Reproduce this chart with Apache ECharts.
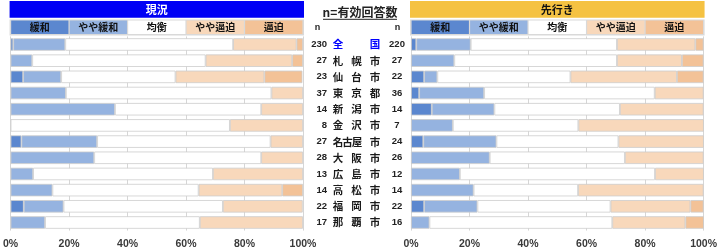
<!DOCTYPE html>
<html>
<head>
<meta charset="utf-8">
<script src="https://cdn.jsdelivr.net/npm/echarts@6/dist/echarts.min.js"></script>
<style>
html,body{margin:0;padding:0;background:#fff;}
#c{width:720px;height:250px;}
</style>
</head>
<body>
<div id="c"></div>
<script>
// ---- data ----
const cities = ['全国','札幌市','仙台市','東京都','新潟市','金沢市','名古屋市','大阪市','広島市','高松市','福岡市','那覇市'];
const nNow    = [230,27,23,37,14,8,27,28,13,14,22,17];
const nFuture = [220,27,22,36,14,7,24,26,12,14,22,16];
const levels = ['緩和','やや緩和','均衡','やや逼迫','逼迫'];
const xTicks = [0,20,40,60,80,100];

// 現況 (%)
const nowEase        = [0.9, 0, 4.3, 0, 0, 0, 3.7, 0, 0, 0, 4.5, 0];
const nowSlightEase  = [17.8, 7.4, 13.0, 18.9, 35.7, 0, 25.9, 28.6, 7.7, 14.3, 13.6, 11.8];
const nowBalance     = [57.4, 59.3, 39.1, 70.3, 50.0, 75.0, 59.3, 57.1, 61.5, 50.0, 54.5, 52.9];
const nowSlightTight = [21.7, 29.6, 30.4, 10.8, 14.3, 25.0, 11.1, 14.3, 30.8, 28.6, 27.3, 35.3];
const nowTight       = [2.2, 3.7, 13.0, 0, 0, 0, 0, 0, 0, 7.1, 0, 0];

// 先行き (%)
const futEase        = [1.8, 0, 4.5, 2.8, 7.1, 0, 4.2, 0, 0, 0, 4.5, 0];
const futSlightEase  = [18.6, 14.8, 4.5, 22.2, 21.4, 14.3, 25.0, 26.9, 16.7, 21.4, 18.2, 6.3];
const futBalance     = [50.0, 55.6, 45.5, 58.3, 42.9, 42.9, 41.7, 46.2, 66.7, 35.7, 45.5, 62.5];
const futSlightTight = [26.8, 22.2, 36.4, 16.7, 28.6, 42.9, 29.2, 26.9, 16.7, 42.9, 27.3, 25.0];
const futTight       = [2.8, 7.4, 9.1, 0, 0, 0, 0, 0, 0, 0, 4.5, 6.3];

// ---- styles ----
const colors = ['#5b87cf','#95b3e0','#ffffff','#f8d8bb','#f3c297'];
const G = [
  {left:7, width:296, top:36.4, height:194.2},
  {left:411, width:297, top:36.4, height:194.2}
];
const jp = '"Noto Sans CJK JP", "Noto Sans", sans-serif';
const num = '"Liberation Sans", Arial, sans-serif';

const chart = echarts.init(document.getElementById('c'), null, {renderer:'canvas'});

function mkSeries(arrs, gi, stack) {
  return arrs.map((a, k) => ({
    type:'bar', name: levels[k], stack: stack, xAxisIndex: gi, yAxisIndex: gi,
    barCategoryGap:'23%',
    data: a.map(v => v === 0 ? '-' : v),
    itemStyle:{color: colors[k], borderColor:'#cdcdcd', borderWidth:0.8},
    silent:true
  }));
}

function xAx(gi){
  return {
    type:'value', gridIndex: gi, min:0, max:100, interval:20,
    axisLine:{show:false}, axisTick:{show:false},
    splitLine:{show:true, lineStyle:{color:'#d6d6d6', width:1}},
    axisLabel:{formatter:'{value}%', fontSize:10.5, color:'#3a3a3a', fontFamily:num, fontWeight:'bold', margin:8}
  };
}

const option = {
  animation:false,
  grid: G.map(g => Object.assign({containLabel:false}, g)),
  xAxis: [xAx(0), xAx(1)],
  yAxis: [
    {type:'category', gridIndex:0, data:cities, inverse:true, position:'right',
     axisLine:{show:false}, axisTick:{show:false},
     axisLabel:{formatter:(v,i)=>String(nNow[i]), align:'right', margin:24, fontSize:9.5, fontWeight:'bold', color:'#222', fontFamily:num}},
    {type:'category', gridIndex:1, data:cities, inverse:true, position:'left',
     axisLine:{show:false}, axisTick:{show:false},
     axisLabel:{formatter:(v,i)=>String(nFuture[i]), align:'center', margin:14, fontSize:9.5, fontWeight:'bold', color:'#222', fontFamily:num}}
  ],
  series: [].concat(
    mkSeries([nowEase, nowSlightEase, nowBalance, nowSlightTight, nowTight], 0, 'now'),
    mkSeries([futEase, futSlightEase, futBalance, futSlightTight, futTight], 1, 'fut')
  )
};
chart.setOption(option);

// ---- headers & city labels ----
const gfx = [];
function header(gi, title, bg, fg) {
  const x0 = chart.convertToPixel({xAxisIndex:gi}, 0);
  const x1 = chart.convertToPixel({xAxisIndex:gi}, 100);
  gfx.push({type:'rect', shape:{x:x0-1, y:1, width:x1-x0+2, height:16.7}, style:{fill:bg}, silent:true});
  gfx.push({type:'text', x:(x0+x1)/2, y:9.5, style:{text:title, fill:fg, font:'bold 11px '+jp, textAlign:'center', textVerticalAlign:'middle'}, silent:true});
  gfx.push({type:'rect', shape:{x:x0-1, y:19.5, width:x1-x0+2, height:16}, style:{fill:'#d9d9d9'}, silent:true});
  for (let k = 0; k < 5; k++) {
    const a = chart.convertToPixel({xAxisIndex:gi}, xTicks[k]);
    const b = chart.convertToPixel({xAxisIndex:gi}, xTicks[k+1]);
    gfx.push({type:'rect', shape:{x:a+0.6, y:20.6, width:b-a-1.2, height:13.4}, style:{fill:colors[k]}, silent:true});
    gfx.push({type:'text', x:(a+b)/2, y:27.5, style:{text:levels[k], fill:'#111', font:'bold 10px '+jp, textAlign:'center', textVerticalAlign:'middle'}, silent:true});
  }
}
header(0, '現況', '#0000f5', '#ffffff');
header(1, '先行き', '#f5c242', '#111111');

// middle title
gfx.push({type:'text', x:360, y:12.5, style:{text:'n=有効回答数', fill:'#222', font:'bold 12px '+jp, textAlign:'center', textVerticalAlign:'middle'}, silent:true});
gfx.push({type:'line', shape:{x1:323, y1:19.3, x2:397, y2:19.3}, style:{stroke:'#222', lineWidth:1}, silent:true});
gfx.push({type:'text', x:317.5, y:28, style:{text:'n', fill:'#222', font:'bold 9px '+num, textAlign:'center', textVerticalAlign:'middle'}, silent:true});
gfx.push({type:'text', x:397.5, y:28, style:{text:'n', fill:'#222', font:'bold 9px '+num, textAlign:'center', textVerticalAlign:'middle'}, silent:true});

cities.forEach((c, i) => {
  const y = chart.convertToPixel({yAxisIndex:0}, i);
  const chars = Array.from(c);
  let xs;
  if (chars.length === 4) xs = [338, 347.5, 357, 375];
  else if (chars.length === 2) xs = [338, 375];
  else xs = chars.map((_, j) => 338 + j * (375 - 338) / (chars.length - 1));
  const fill = i === 0 ? '#0000ff' : '#1a1a1a';
  chars.forEach((ch, j) => {
    gfx.push({type:'text', x:xs[j], y:y, style:{text:ch, fill:fill, font:'bold 10.5px '+jp, textAlign:'center', textVerticalAlign:'middle'}, silent:true});
  });
});

chart.setOption({graphic: gfx});
</script>
</body>
</html>
